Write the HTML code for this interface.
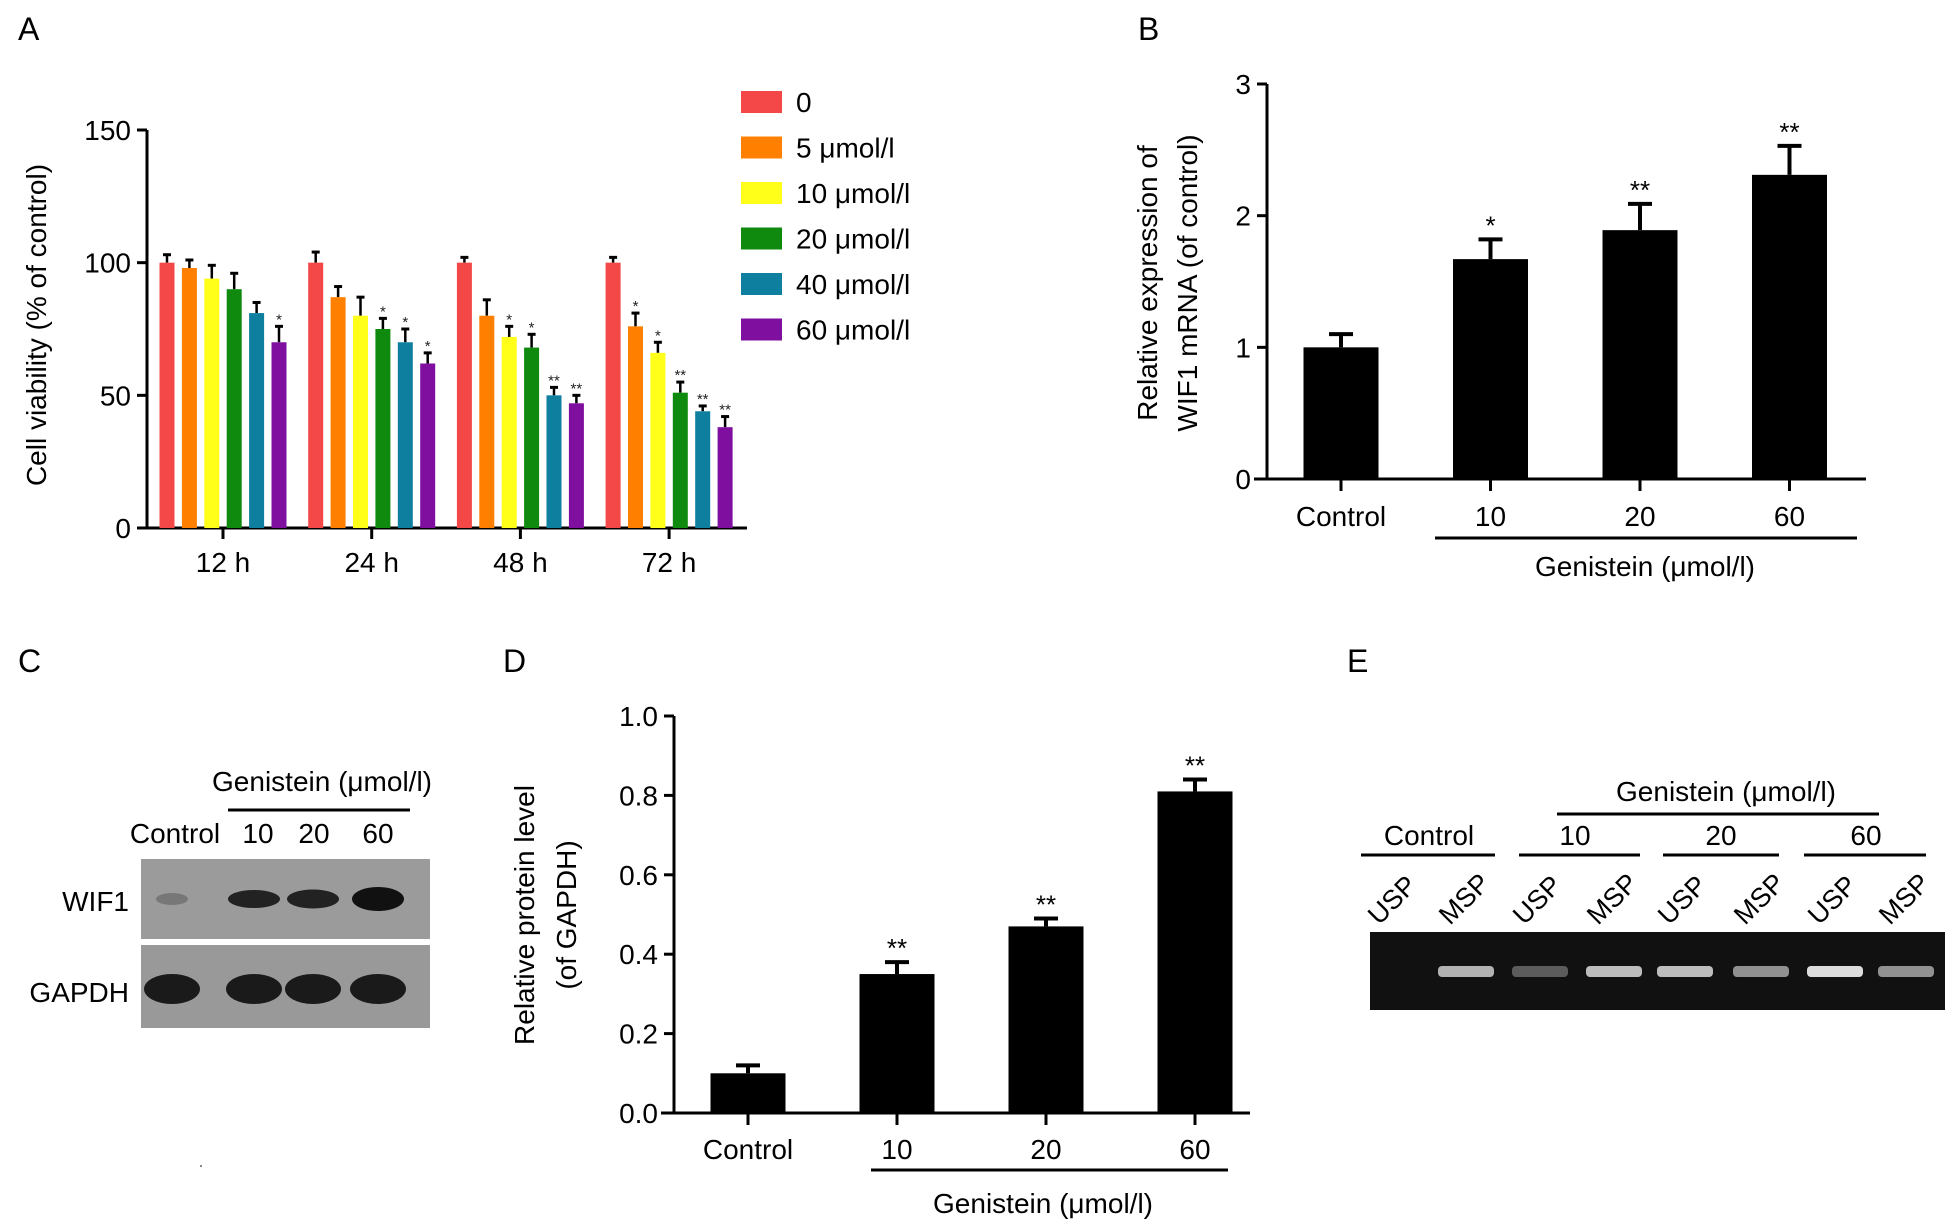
<!DOCTYPE html>
<html><head><meta charset="utf-8"><style>
body{margin:0;background:#fff}
svg{display:block;font-family:"Liberation Sans",Arial,sans-serif}
</style></head><body>
<svg id="fig" width="1957" height="1232" viewBox="0 0 1957 1232" xmlns="http://www.w3.org/2000/svg">
<g id="pA"></g>
<g id="pB"></g>
<g id="pC"></g>
<g id="pD"></g>
<g id="pE"></g>
</svg>
<script>
// ---- Panel A data ----
const aGroups = ["12 h","24 h","48 h","72 h"];
const aSeries = ["0","5 μmol/l","10 μmol/l","20 μmol/l","40 μmol/l","60 μmol/l"];
const aColors = ["#f44848","#ff8000","#ffff1a","#0f8a0f","#0f7f9f","#7f0f9f"];
const aVals0 = [100,100,100,100];
const aVals5 = [98,87,80,76];
const aVals10 = [94,80,72,66];
const aVals20 = [90,75,68,51];
const aVals40 = [81,70,50,44];
const aVals60 = [70,62,47,38];
const aErr0 = [3,4,2,2];
const aErr5 = [3,4,6,5];
const aErr10 = [5,7,4,4];
const aErr20 = [6,4,5,4];
const aErr40 = [4,5,3,2];
const aErr60 = [6,4,3,4];
const aStars5 = ["","","","*"];
const aStars10 = ["","","*","*"];
const aStars20 = ["","*","*","**"];
const aStars40 = ["","*","**","**"];
const aStars60 = ["*","*","**","**"];
const aTicks = [0,50,100,150];
// ---- Panel B data ----
const bCats = ["Control","10","20","60"];
const bVals = [1.0,1.67,1.89,2.31];
const bErr = [0.1,0.15,0.2,0.22];
const bStars = ["","*","**","**"];
const bTicks = [0,1,2,3];
// ---- Panel D data ----
const dCats = ["Control","10","20","60"];
const dVals = [0.10,0.35,0.47,0.81];
const dErr = [0.02,0.03,0.02,0.03];
const dStars = ["","**","**","**"];
const dTicks = ["0.0","0.2","0.4","0.6","0.8","1.0"];

const NS="http://www.w3.org/2000/svg";
function mk(parent,tag,attrs,text){const e=document.createElementNS(NS,tag);for(const k in attrs)e.setAttribute(k,attrs[k]);if(text!==undefined)e.textContent=text;parent.appendChild(e);return e;}

// ===== Panel A =====
(function(){
  const g=document.getElementById('pA');
  const x0=147, y0=528, yTop=130, vmax=150;
  const y=v=>y0-(v/vmax)*(y0-yTop);
  const gx=i=>223+i*148.7;
  const step=22.4, bw=15;
  let t=mk(g,'text',{x:18,y:40,'font-size':32},'A');
  
  let l=mk(g,'line',{x1:x0,y1:yTop,x2:x0,y2:y0+1,stroke:'#000','stroke-width':3});
  
  l=mk(g,'line',{x1:137,y1:y0,x2:747,y2:y0,stroke:'#000','stroke-width':3});
  
  aTicks.forEach(v=>{
    mk(g,'line',{x1:x0-10,y1:y(v),x2:x0,y2:y(v),stroke:'#000','stroke-width':3});
    const tt=mk(g,'text',{x:x0-16,y:y(v)+10,'font-size':28,'text-anchor':'end'},v);
    
  });
  const tl=mk(g,'text',{x:0,y:0,'font-size':28,'text-anchor':'middle',transform:`translate(46,325) rotate(-90)`},'Cell viability (% of control)');
  
  const vals=[aVals0,aVals5,aVals10,aVals20,aVals40,aVals60];
  const errs=[aErr0,aErr5,aErr10,aErr20,aErr40,aErr60];
  const stars=[["","","",""],aStars5,aStars10,aStars20,aStars40,aStars60];
  aGroups.forEach((gn,i)=>{
    const cx=gx(i);
    mk(g,'line',{x1:cx,y1:y0,x2:cx,y2:y0+11,stroke:'#000','stroke-width':3});
    const lt=mk(g,'text',{x:cx,y:572,'font-size':28,'text-anchor':'middle'},gn);
    
    for(let s=0;s<6;s++){
      const bx=cx+(s-2.5)*step;
      const v=vals[s][i], e=errs[s][i];
      mk(g,'line',{x1:bx,y1:y(v),x2:bx,y2:y(v+e),stroke:'#000','stroke-width':2.5});
      mk(g,'line',{x1:bx-4,y1:y(v+e),x2:bx+4,y2:y(v+e),stroke:'#000','stroke-width':3});
      const r=mk(g,'rect',{x:bx-bw/2,y:y(v),width:bw,height:y0-y(v),fill:aColors[s]});
      
      if(stars[s][i]){const st=mk(g,'text',{x:bx,y:y(v+e)-2,'font-size':15,'text-anchor':'middle',fill:'#222'},stars[s][i]);
        }
    }
  });
  aSeries.forEach((n,s)=>{
    const cy=102+s*45.5;
    const r=mk(g,'rect',{x:741,y:cy-11,width:41,height:22,fill:aColors[s]});
    
    const lt=mk(g,'text',{x:796,y:cy+10,'font-size':28},n);
    
  });
})();

// ===== Black bar chart helper =====
function blackBars(g,prefix,o,cats,vals,errs,stars,ticks){
  const y=v=>o.y0-(v/o.vmax)*(o.y0-o.yTop);
  let l=mk(g,'line',{x1:o.ax,y1:o.yTop,x2:o.ax,y2:o.y0+1,stroke:'#000','stroke-width':3});
  
  l=mk(g,'line',{x1:o.xa0,y1:o.y0,x2:o.xa1,y2:o.y0,stroke:'#000','stroke-width':3});
  
  ticks.forEach(tv=>{
    const v=parseFloat(tv);
    mk(g,'line',{x1:o.ax-10,y1:y(v),x2:o.ax,y2:y(v),stroke:'#000','stroke-width':3});
    const tt=mk(g,'text',{x:o.ax-16,y:y(v)+10,'font-size':28,'text-anchor':'end'},tv);
    
  });
  cats.forEach((c,i)=>{
    const cx=o.bx0+i*o.bstep, v=vals[i], e=errs[i];
    mk(g,'line',{x1:cx,y1:o.y0,x2:cx,y2:o.y0+12,stroke:'#000','stroke-width':3});
    mk(g,'line',{x1:cx,y1:y(v),x2:cx,y2:y(v+e),stroke:'#000','stroke-width':4});
    mk(g,'line',{x1:cx-12,y1:y(v+e),x2:cx+12,y2:y(v+e),stroke:'#000','stroke-width':4});
    const r=mk(g,'rect',{x:cx-o.bw/2,y:y(v),width:o.bw,height:o.y0-y(v),fill:'#000'});
    
    const lt=mk(g,'text',{x:cx,y:o.labY,'font-size':28,'text-anchor':'middle'},c);
    
    if(stars[i]){const st=mk(g,'text',{x:cx,y:y(v+e)-5,'font-size':26,'text-anchor':'middle'},stars[i]);
      }
  });
}

// ===== Panel B =====
(function(){
  const g=document.getElementById('pB');
  let t=mk(g,'text',{x:1138,y:40,'font-size':32},'B');
  
  blackBars(g,'b',{ax:1267,yTop:84,y0:479,vmax:3,xa0:1254,xa1:1866,bx0:1341,bstep:149.5,bw:75,labY:526},bCats,bVals,bErr,bStars,bTicks);
  let l=mk(g,'line',{x1:1435,y1:538,x2:1857,y2:538,stroke:'#000','stroke-width':3});
  
  t=mk(g,'text',{x:1645,y:576,'font-size':28,'text-anchor':'middle'},'Genistein (μmol/l)');
  
  t=mk(g,'text',{x:0,y:0,'font-size':28,'text-anchor':'middle',transform:'translate(1157,283) rotate(-90)'},'Relative expression of');
  
  t=mk(g,'text',{x:0,y:0,'font-size':28,'text-anchor':'middle',transform:'translate(1197,283) rotate(-90)'},'WIF1 mRNA (of control)');
  
})();

// ===== Panel D =====
(function(){
  const g=document.getElementById('pD');
  let t=mk(g,'text',{x:503,y:672,'font-size':32},'D');
  
  blackBars(g,'d',{ax:674,yTop:716,y0:1113,vmax:1,xa0:661,xa1:1250,bx0:748,bstep:149,bw:75,labY:1159},dCats,dVals,dErr,dStars,dTicks);
  let l=mk(g,'line',{x1:871,y1:1170,x2:1228,y2:1170,stroke:'#000','stroke-width':3});
  
  t=mk(g,'text',{x:1043,y:1213,'font-size':28,'text-anchor':'middle'},'Genistein (μmol/l)');
  
  t=mk(g,'text',{x:0,y:0,'font-size':28,'text-anchor':'middle',transform:'translate(534,915) rotate(-90)'},'Relative protein level');
  
  t=mk(g,'text',{x:0,y:0,'font-size':28,'text-anchor':'middle',transform:'translate(576,915) rotate(-90)'},'(of GAPDH)');
  
})();

// ===== Panel C (western blot) =====
(function(){
  const g=document.getElementById('pC');
  let t=mk(g,'text',{x:18,y:672,'font-size':32},'C');
  
  t=mk(g,'text',{x:322,y:791,'font-size':28,'text-anchor':'middle'},'Genistein (μmol/l)');
  
  let l=mk(g,'line',{x1:228,y1:810,x2:410,y2:810,stroke:'#000','stroke-width':3});
  
  const lanes=["Control","10","20","60"], lx=[175,258,314,378];
  lanes.forEach((n,i)=>{const tt=mk(g,'text',{x:lx[i],y:843,'font-size':28,'text-anchor':'middle'},n);
    });
  const r1=mk(g,'rect',{x:141,y:859,width:289,height:80,fill:'#9b9b9b'});
  
  const r2=mk(g,'rect',{x:141,y:945,width:289,height:83,fill:'#999'});
  
  const bx=[172,254,313,378], wifH=[8,14,15,20], wifC=['#777','#222','#222','#111'];
  bx.forEach((x,i)=>{
    const e=mk(g,'ellipse',{cx:x,cy:899,rx:i==0?16:26,ry:wifH[i]/2+2,fill:wifC[i]});
    
    const e2=mk(g,'ellipse',{cx:x,cy:989,rx:28,ry:15,fill:'#1a1a1a'});
    
  });
  t=mk(g,'text',{x:129,y:911,'font-size':28,'text-anchor':'end'},'WIF1');
  
  t=mk(g,'text',{x:129,y:1002,'font-size':28,'text-anchor':'end'},'GAPDH');
  
})();

// ===== Panel E (MSP gel) =====
(function(){
  const g=document.getElementById('pE');
  let t=mk(g,'text',{x:1347,y:672,'font-size':32},'E');
  
  t=mk(g,'text',{x:1726,y:801,'font-size':28,'text-anchor':'middle'},'Genistein (μmol/l)');
  
  let l=mk(g,'line',{x1:1557,y1:814,x2:1879,y2:814,stroke:'#000','stroke-width':3});
  
  const grp=["Control","10","20","60"], gcx=[1429,1575,1721,1866], ul=[[1361,1495],[1519,1640],[1663,1779],[1804,1926]];
  grp.forEach((n,i)=>{
    const tt=mk(g,'text',{x:gcx[i],y:845,'font-size':28,'text-anchor':'middle'},n);
    
    const u=mk(g,'line',{x1:ul[i][0],y1:855,x2:ul[i][1],y2:855,stroke:'#000','stroke-width':3});
    
  });
  const gel=mk(g,'rect',{x:1370,y:932,width:575,height:78,fill:'#111'});
  
  const lane=[1395,1466,1540,1614,1685,1761,1835,1906];
  const bandOp=[0,0.75,0.35,0.8,0.8,0.6,0.95,0.6];
  lane.forEach((x,i)=>{
    const lt=mk(g,'text',{x:0,y:0,'font-size':27,transform:`translate(${x-16},${926}) rotate(-45)`},i%2==0?'USP':'MSP');
    
    if(bandOp[i]>0){const b=mk(g,'rect',{x:x-28,y:966,width:56,height:11,rx:4,fill:'#e8e8e8',opacity:bandOp[i]});
      }
  });
  const dot=mk(g,'rect',{x:200,y:1165,width:2,height:2,fill:'#888'});
  
})();
</script>
</body></html>
